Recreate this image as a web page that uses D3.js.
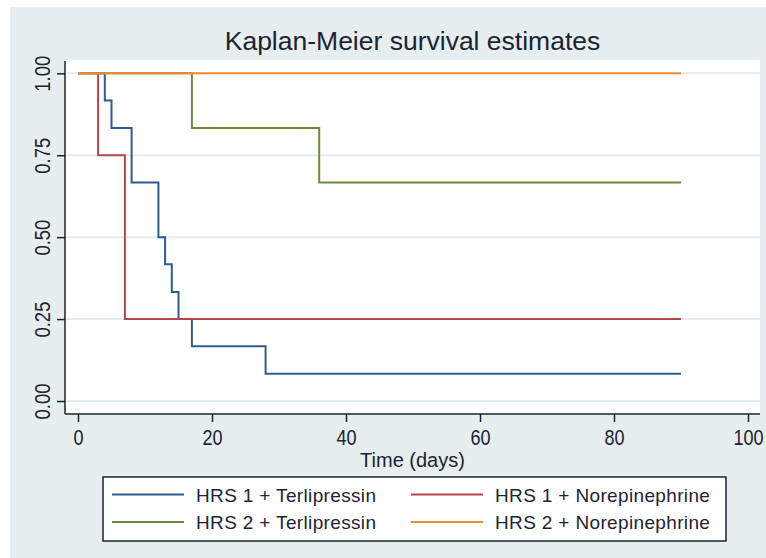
<!DOCTYPE html>
<html>
<head>
<meta charset="utf-8">
<script src="https://cdn.jsdelivr.net/npm/d3@7"></script>
<style>
  html, body { margin: 0; padding: 0; background: #ffffff; }
  svg { display: block; }
  text { font-family: "Liberation Sans", Arial, sans-serif; fill: #1d2333; }
</style>
</head>
<body>
<svg id="chart" width="766" height="558"></svg>
<script>
// ---- data ----
const seriesNames = ["HRS 1 + Terlipressin", "HRS 1 + Norepinephrine", "HRS 2 + Terlipressin", "HRS 2 + Norepinephrine"];
const seriesColors = ["#2f5d8c", "#b2474e", "#6b8c3e", "#ee8d2f"];
const hrs1TerliTimes = [0, 4, 5, 8, 12, 13, 14, 15, 17, 28, 90];
const hrs1TerliSurv  = [1, 0.917, 0.833, 0.667, 0.5, 0.417, 0.333, 0.25, 0.167, 0.083, 0.083];
const hrs1NoreTimes  = [0, 3, 7, 90];
const hrs1NoreSurv   = [1, 0.75, 0.25, 0.25];
const hrs2TerliTimes = [0, 17, 36, 90];
const hrs2TerliSurv  = [1, 0.833, 0.667, 0.667];
const hrs2NoreTimes  = [0, 90];
const hrs2NoreSurv   = [1, 1];
const xTicks = [0, 20, 40, 60, 80, 100];
const yTicks = [0, 0.25, 0.5, 0.75, 1];
const titleText = "Kaplan-Meier survival estimates";
const xTitle = "Time (days)";

const series = [
  {times: hrs1TerliTimes, surv: hrs1TerliSurv},
  {times: hrs1NoreTimes, surv: hrs1NoreSurv},
  {times: hrs2TerliTimes, surv: hrs2TerliSurv},
  {times: hrs2NoreTimes, surv: hrs2NoreSurv}
].map((s, i) => ({name: seriesNames[i], color: seriesColors[i],
  pts: s.times.map((t, j) => ({t: t, s: s.surv[j]}))}));

// ---- layout ----
const svg = d3.select("#chart");
const plotL = 65, plotR = 760, plotT = 60, plotB = 414;
const x = d3.scaleLinear().domain([0, 100]).range([78, 748]);
const y = d3.scaleLinear().domain([0, 1]).range([401, 73.3]);

// backgrounds
svg.append("rect").attr("x", 10).attr("y", 7).attr("width", 756).attr("height", 551).attr("fill", "#e7eef0");
svg.append("rect").attr("x", plotL).attr("y", plotT).attr("width", plotR - plotL).attr("height", plotB - plotT).attr("fill", "#ffffff");

// gridlines
svg.append("g").selectAll("line").data(yTicks).join("line")
  .attr("x1", plotL).attr("x2", plotR)
  .attr("y1", d => y(d)).attr("y2", d => y(d))
  .attr("stroke", "#e6edf1").attr("stroke-width", 2);

// title
svg.append("text").attr("x", (plotL + plotR) / 2).attr("y", 50)
  .attr("text-anchor", "middle").attr("font-size", 26.5).text(titleText);

// curves
const line = d3.line().x(d => x(d.t)).y(d => y(d.s)).curve(d3.curveStepAfter);
svg.append("g").selectAll("path").data(series).join("path")
  .attr("d", d => line(d.pts))
  .attr("fill", "none").attr("stroke", d => d.color).attr("stroke-width", 2);

// x axis
const xAxis = svg.append("g").attr("transform", `translate(0,${plotB})`)
  .call(d3.axisBottom(x).tickValues(xTicks).tickFormat(d3.format("d")).tickSize(8).tickPadding(8).tickSizeOuter(0));
xAxis.select(".domain").remove();
xAxis.selectAll(".tick line").attr("stroke", "#1d2333").attr("stroke-width", 1.5);
xAxis.selectAll(".tick text").attr("font-size", 22).attr("font-family", "Liberation Sans, Arial, sans-serif")
  .attr("fill", "#1d2333").attr("transform", "scale(0.82,1)").attr("dy", "0.7em");
svg.append("line").attr("x1", plotL).attr("x2", plotR).attr("y1", plotB).attr("y2", plotB)
  .attr("stroke", "#1d2333").attr("stroke-width", 1.5);

// y axis
const yAxis = svg.append("g").attr("transform", `translate(${plotL},0)`)
  .call(d3.axisLeft(y).tickValues(yTicks).tickFormat(d3.format(".2f")).tickSize(8).tickSizeOuter(0));
yAxis.select(".domain").remove();
yAxis.selectAll(".tick line").attr("stroke", "#1d2333").attr("stroke-width", 1.5);
yAxis.selectAll(".tick text")
  .attr("x", null).attr("dy", null)
  .attr("font-size", 22).attr("font-family", "Liberation Sans, Arial, sans-serif").attr("fill", "#1d2333")
  .attr("text-anchor", "middle")
  .attr("transform", "translate(-15,0) rotate(-90) scale(0.84,1)");
svg.append("line").attr("x1", plotL).attr("x2", plotL).attr("y1", plotT + 1).attr("y2", plotB)
  .attr("stroke", "#1d2333").attr("stroke-width", 1.5);

// x title
svg.append("text").attr("x", (plotL + plotR) / 2).attr("y", 467)
  .attr("text-anchor", "middle").attr("font-size", 20)
  .text(xTitle);

// legend
const lg = svg.append("g");
lg.append("rect").attr("x", 103).attr("y", 477).attr("width", 623).attr("height", 64)
  .attr("fill", "#ffffff").attr("stroke", "#1d2333").attr("stroke-width", 1.5);
const colX = [112, 411];
const rowY = [494.5, 522];
const items = lg.selectAll("g.item").data(series).join("g").attr("class", "item")
  .attr("transform", (d, i) => `translate(${colX[i % 2]},${rowY[Math.floor(i / 2)]})`);
items.append("line").attr("x1", 0).attr("x2", 72).attr("y1", 0).attr("y2", 0)
  .attr("stroke", d => d.color).attr("stroke-width", 2);
items.append("text").attr("x", 84).attr("y", 7).attr("font-size", 19).attr("letter-spacing", 0.35).text(d => d.name);
</script>
</body>
</html>
